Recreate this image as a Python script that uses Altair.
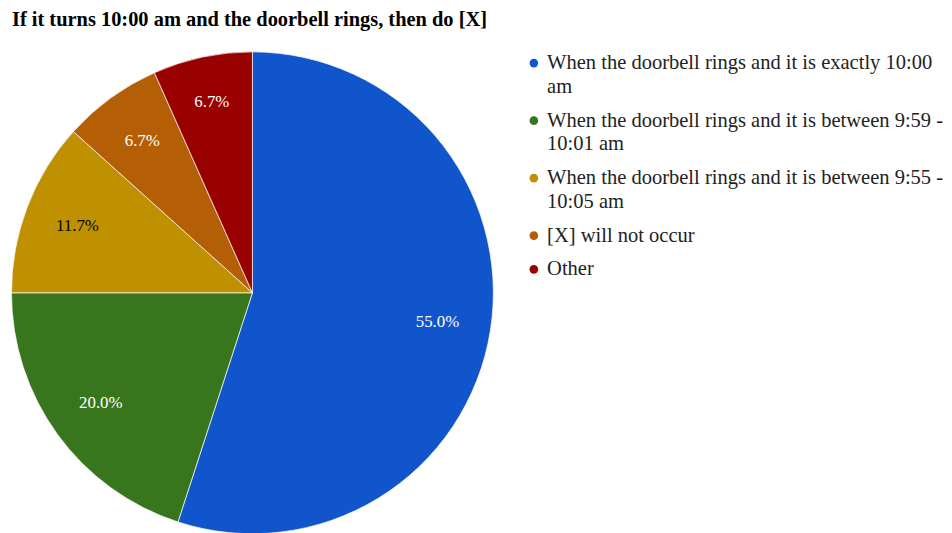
import altair as alt
import pandas as pd

categories = [
    "When the doorbell rings and it is exactly 10:00\nam",
    "When the doorbell rings and it is between 9:59 -\n10:01 am",
    "When the doorbell rings and it is between 9:55 -\n10:05 am",
    "[X] will not occur",
    "Other",
]
counts = [33, 12, 7, 4, 4]
colors = ["#1155cc", "#38761d", "#bf9000", "#b45f06", "#990000"]

df = pd.DataFrame({"category": categories, "count": counts, "order": list(range(len(categories)))})

FONT = "Liberation Serif"
CX, CY = 246.5, 245

arcs = alt.Chart(df).mark_arc(outerRadius=243, stroke="white", strokeWidth=0.7).encode(
    theta=alt.Theta("count:Q", stack=True),
    order=alt.Order("order:Q"),
    x=alt.value(CX),
    y=alt.value(CY),
    color=alt.Color(
        "category:N",
        scale=alt.Scale(domain=categories, range=colors),
        sort=categories,
        legend=alt.Legend(
            title=None,
            orient="none",
            legendX=520,
            legendY=3,
            symbolType="circle",
            symbolSize=75,
            symbolStrokeWidth=0,
            labelFont=FONT,
            labelFontSize=20.7,
            labelColor="#222222",
            labelLimit=500,
            labelOffset=3,
            rowPadding=12,
            padding=0,
            labelExpr="split(datum.label, '\\n')",
        ),
    ),
)

label_base = (
    alt.Chart(df)
    .transform_joinaggregate(total="sum(count)")
    .transform_window(cum="sum(count)", sort=[alt.SortField("order")])
    .transform_calculate(
        pct="datum.count / datum.total",
        mid="(datum.cum - datum.count / 2) / datum.total * 2 * PI",
    )
    .encode(
        theta=alt.Theta("mid:Q", scale=None),
        x=alt.value(CX),
        y=alt.value(CY),
        text=alt.Text("pct:Q", format=".1%"),
        color=alt.condition(alt.datum.order == 2, alt.value("#000000"), alt.value("#ffffff")),
    )
)

labels_main = label_base.transform_filter(alt.datum.order != 4).mark_text(
    radius=189, font=FONT, fontSize=17
)
labels_small = label_base.transform_filter(alt.datum.order == 4).mark_text(
    radius=197, font=FONT, fontSize=17
)

chart = alt.layer(arcs, labels_main, labels_small).properties(
    width=944,
    height=485,
    padding={"left": 0, "top": 40, "right": 0, "bottom": 0},
    autosize=alt.AutoSizeParams(type="none"),
    title=alt.Title(
        "If it turns 10:00 am and the doorbell rings, then do [X]",
        anchor="start",
        font=FONT,
        fontSize=20.6,
        fontWeight="bold",
        color="#000000",
        dx=4,
        offset=19,
    ),
).configure(
    view=alt.ViewConfig(stroke="transparent"),
    style={"guide-label": alt.MarkConfig(lineHeight=24)},
)

chart.save("out.html", embed_options={"renderer": "svg", "actions": False})
